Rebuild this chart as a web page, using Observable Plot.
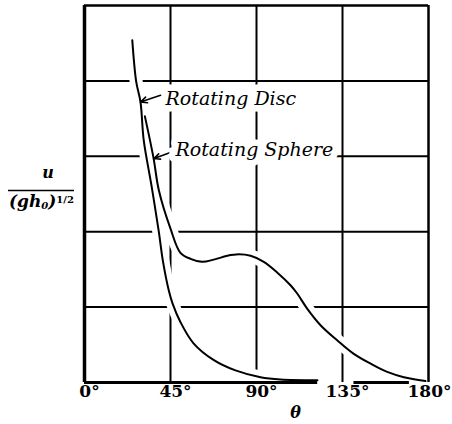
<!DOCTYPE html>
<html>
<head>
<meta charset="utf-8">
<script src="https://cdn.jsdelivr.net/npm/d3@7"></script>
<script src="https://cdn.jsdelivr.net/npm/@observablehq/plot@0.6"></script>
<style>
  html, body { margin: 0; padding: 0; background: white; }
  svg { display: block; }
</style>
</head>
<body>
<div id="chart"></div>
<script>
// Rotating Disc curve (theta in degrees, u/(g h0)^1/2)
const discTheta = [25.0, 27.05, 29.3, 31.0, 35.06, 38.88, 40.97, 44.11, 46.05, 50.23, 57.04, 67.5, 79.0, 92.1, 102.6, 121.9];
const discU     = [4.54, 3.99, 3.72, 3.21, 2.61, 2.00, 1.62, 1.22, 1.05, 0.80, 0.52, 0.30, 0.16, 0.07, 0.04, 0.03];

// Rotating Sphere curve
const sphereTheta = [31.6, 36.1, 38.9, 45.0, 50.2, 55.5, 61.6, 67.7, 74.7, 80.7, 86.9, 93.8, 100.8, 107.8, 111.3, 116.5, 123.5, 132.2, 140.9, 149.7, 158.4, 167.1, 178.4];
const sphereU     = [3.53, 2.98, 2.55, 2.04, 1.72, 1.64, 1.60, 1.63, 1.68, 1.70, 1.68, 1.60, 1.46, 1.29, 1.18, 0.98, 0.76, 0.56, 0.38, 0.25, 0.14, 0.07, 0.02];

// Grid / ticks
const xTicks = [0, 45, 90, 135, 180];
const gridTheta = [45, 90, 135];
const gridU = [1, 2, 3, 4];
// broken baseline pieces (theta ranges) as printed
const baseFrom = [0, 141];
const baseTo   = [122, 170];

// Annotations
const labelText  = ["Rotating Disc", "Rotating Sphere"];
const labelTheta = [42.4, 47.6];
const labelU     = [3.755, 3.09];
const arrowFromTheta = [39.8, 46.0];
const arrowFromU     = [3.81, 3.06];
const arrowToTheta   = [29.3, 36.4];
const arrowToU       = [3.72, 2.97];

const disc = discTheta.map((t, i) => ({theta: t, u: discU[i]}));
const sphere = sphereTheta.map((t, i) => ({theta: t, u: sphereU[i]}));
const base = baseFrom.map((a, i) => ({a, b: baseTo[i]}));
const labels = labelText.map((t, i) => ({text: t, theta: labelTheta[i], u: labelU[i]}));
const arrows = arrowFromTheta.map((t, i) => ({x1: t, y1: arrowFromU[i], x2: arrowToTheta[i], y2: arrowToU[i]}));

const curve = "catmull-rom";
const tickStyle = {tickSize: 0, tickPadding: 2, tickFormat: d => d + "°", fontSize: 17, fontWeight: "bold", fill: "black"};

const svg = Plot.plot({
  width: 452,
  height: 424,
  marginLeft: 84,
  marginRight: 24,
  marginTop: 5,
  marginBottom: 42,
  x: {domain: [0, 180]},
  y: {domain: [0, 5], axis: null},
  style: {fontFamily: "DejaVu Serif", background: "white", overflow: "visible", color: "black"},
  marks: [
    Plot.ruleX(gridTheta, {stroke: "black", strokeWidth: 2}),
    Plot.ruleY(gridU, {stroke: "black", strokeWidth: 2}),
    // white halos that break the grid around the curves and arrows
    Plot.line(disc, {x: "theta", y: "u", curve, stroke: "#ffffff", strokeWidth: 13}),
    Plot.line(sphere, {x: "theta", y: "u", curve, stroke: "#ffffff", strokeWidth: 13}),
    Plot.arrow(arrows, {x1: "x1", y1: "y1", x2: "x2", y2: "y2", stroke: "#ffffff", strokeWidth: 9, headLength: 0}),
    // frame
    Plot.ruleX([0], {stroke: "black", strokeWidth: 3.5}),
    Plot.ruleX([180], {stroke: "black", strokeWidth: 2.5}),
    Plot.ruleY([5], {stroke: "black", strokeWidth: 2.5}),
    Plot.ruleY(base, {y: 0, x1: "a", x2: "b", stroke: "black", strokeWidth: 3}),
    // curves
    Plot.line(disc, {x: "theta", y: "u", curve, stroke: "black", strokeWidth: 2}),
    Plot.line(sphere, {x: "theta", y: "u", curve, stroke: "black", strokeWidth: 2}),
    Plot.arrow(arrows, {x1: "x1", y1: "y1", x2: "x2", y2: "y2", stroke: "black", strokeWidth: 1.6, headLength: 7, headAngle: 50}),
    Plot.text(labels, {x: "theta", y: "u", text: "text", textAnchor: "start", fontSize: 19, fontStyle: "italic",
      fill: "black", stroke: "#ffffff", strokeWidth: 13, paintOrder: "stroke", strokeLinejoin: "round"}),
    Plot.axisX(xTicks.slice(0, -1), {...tickStyle, dx: 5}),
    Plot.axisX(xTicks.slice(-1), {...tickStyle, dx: 1}),
    Plot.text(["θ"], {frameAnchor: "bottom", dx: 39, dy: 35, fontSize: 16, fontStyle: "italic", fontWeight: "bold", fill: "black"})
  ]
});

// y-axis label: u / (g h0)^1/2
const g = d3.select(svg).append("g")
  .attr("font-family", "DejaVu Serif")
  .attr("font-style", "italic")
  .attr("font-weight", "bold")
  .attr("text-anchor", "start")
  .attr("fill", "black");
g.append("text").attr("x", 48).attr("y", 178).attr("text-anchor", "middle").attr("font-size", 16).text("u");
g.append("line").attr("x1", 8).attr("x2", 74).attr("y1", 190.5).attr("y2", 190.5)
  .attr("stroke", "black").attr("stroke-width", 1.5);
const den = g.append("text").attr("x", 9).attr("y", 207).attr("font-size", 17).attr("text-anchor", "start");
den.append("tspan").text("(gh");
den.append("tspan").attr("font-size", 10).attr("dy", 1.5).text("0");
den.append("tspan").attr("dy", -1.5).text(")");
den.append("tspan").attr("font-size", 10).attr("dy", -4).attr("font-style", "normal").text("1/2");

document.getElementById("chart").append(svg);
</script>
</body>
</html>
